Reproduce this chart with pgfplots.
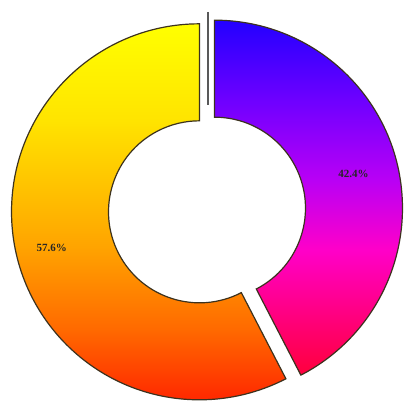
\documentclass[border=0pt]{standalone}
\usepackage{pgfplots}
\pgfplotsset{compat=1.18}
\usepackage{pgfplotstable}
\usepackage{fontspec}
\setmainfont{Liberation Serif}
\usetikzlibrary{calc}

% share of each slice, in percent
\pgfplotstableread{
label value
42.4  42.4
57.6  57.6
}\sharetable

\definecolor{rimline}{RGB}{60,50,30}

% vertical gradients, bottom (25bp) to top (75bp) of each slice
\pgfdeclareverticalshading{slicepurple}{100bp}{%
  color(0bp)=(rgb,255:red,255;green,0;blue,60);
  color(25bp)=(rgb,255:red,255;green,0;blue,60);
  color(42.6bp)=(rgb,255:red,255;green,0;blue,200);
  color(52.5bp)=(rgb,255:red,185;green,0;blue,245);
  color(63.7bp)=(rgb,255:red,110;green,0;blue,255);
  color(75bp)=(rgb,255:red,35;green,0;blue,255);
  color(100bp)=(rgb,255:red,35;green,0;blue,255)}
\pgfdeclareverticalshading{sliceyellow}{100bp}{%
  color(0bp)=(rgb,255:red,255;green,40;blue,0);
  color(25bp)=(rgb,255:red,255;green,40;blue,0);
  color(34.3bp)=(rgb,255:red,255;green,105;blue,0);
  color(45.6bp)=(rgb,255:red,255;green,165;blue,0);
  color(62.2bp)=(rgb,255:red,255;green,228;blue,0);
  color(75bp)=(rgb,255:red,255;green,255;blue,0);
  color(100bp)=(rgb,255:red,255;green,255;blue,0)}

\begin{document}
\begin{tikzpicture}
\begin{axis}[
    x=0.5pt, y=0.5pt,
    xmin=0, xmax=404, ymin=0, ymax=402,
    hide axis,
    clip=false,
]
  % keep the page as large as the reference frame
  \path (axis cs:0,0) rectangle (axis cs:404,402);

  \pgfplotstablegetelem{0}{value}\of\sharetable \let\valA\pgfplotsretval
  \pgfplotstablegetelem{1}{value}\of\sharetable \let\valB\pgfplotsretval
  \pgfmathsetmacro\cut{90-3.6*\valA}
  \pgfmathsetmacro\midA{90-1.8*\valA}
  \pgfmathsetmacro\midB{\cut-1.8*\valB}

  % exploded slice centres (true centre 207,192, offset 7.7 px along mid angle)
  \coordinate (C)  at (axis cs:207,192);
  \coordinate (PA) at ($(C)+(\midA:3.85pt)$);
  \coordinate (PB) at ($(C)+(\midB:3.85pt)$);

  % 42.4 % slice
  \path[draw=rimline, line width=0.6pt, shading=slicepurple]
    ($(PA)+(90:94pt)$) arc[start angle=90, end angle=\cut, radius=94pt]
    -- ($(PA)+(\cut:45.5pt)$) arc[start angle=\cut, end angle=90, radius=45.5pt] -- cycle;

  % 57.6 % slice
  \path[draw=rimline, line width=0.6pt, shading=sliceyellow]
    ($(PB)+(90:94pt)$) arc[start angle=90, end angle=\cut+360, radius=94pt]
    -- ($(PB)+(\cut:45.5pt)$) arc[start angle=\cut+360, end angle=90, radius=45.5pt] -- cycle;

  \node[font=\bfseries\fontsize{5.5}{6}\selectfont, text=black!85] at ($(PA)+(\midA:71.5pt)$) {42.4\%};
  \node[font=\bfseries\fontsize{5.5}{6}\selectfont, text=black!85] at ($(PB)+(\midB:76pt)$) {57.6\%};

  % divider stroke at the top
  \addplot[no marks, line width=1.2pt, color=black!65] coordinates {(208,390) (208,297)};
\end{axis}
\end{tikzpicture}
\end{document}
